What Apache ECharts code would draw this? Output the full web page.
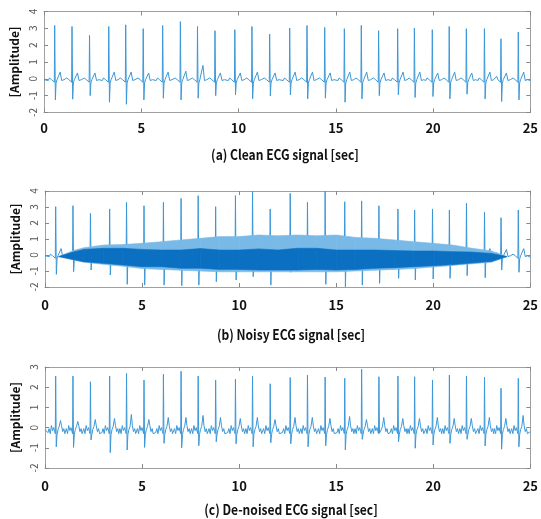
<!DOCTYPE html>
<html><head><meta charset="utf-8">
<script src="https://cdn.jsdelivr.net/npm/echarts@6/dist/echarts.min.js"></script>
<style>html,body{margin:0;padding:0;background:#fff}#c{width:541px;height:519px}</style>
</head><body><div id="c"></div>
<script>
// R-peak times (sec)
const beatTimes = [0.55,1.44,2.34,3.33,4.2,5.1,6.1,7.01,7.89,8.79,9.81,10.69,11.6,12.63,13.52,14.43,15.44,16.31,17.2,18.18,19.04,19.96,20.83,21.71,22.64,23.49,24.38];
// (a) clean
const cleanR = [3.17,3.11,2.58,3.11,3.21,2.98,3.17,3.4,3.11,2.86,2.92,3.11,2.65,3.02,3.17,3.05,2.98,3.17,2.86,2.98,3.02,2.92,3.11,2.98,2.98,2.38,2.78];
const cleanS = [-1.25,-1.21,-1.0,-1.39,-1.51,-1.25,-1.15,-1.25,-1.15,-1.0,-0.95,-1.19,-1.01,-0.95,-1.19,-1.15,-1.39,-1.19,-1.0,-0.95,-1.11,-1.05,-1.19,-0.91,-1.19,-1.35,-1.25];
const cleanT = [0.4,0.35,0.35,0.4,0.4,0.35,0.4,0.45,0.8,0.35,0.35,0.4,0.35,0.4,0.4,0.35,0.4,0.4,0.35,0.4,0.4,0.35,0.4,0.35,0.4,0.35,0.4];
// (b) noisy
const noisyR = [3.02,3.08,2.6,2.88,3.29,3.08,3.29,3.54,3.71,3.02,3.71,3.98,2.88,3.85,3.29,3.98,3.33,3.38,3.08,2.88,2.81,2.88,2.81,3.23,2.67,2.33,2.81];
const noisyS = [-1.21,-1.04,-0.94,-1.25,-1.83,-1.88,-1.88,-1.92,-1.88,-1.67,-1.56,-1.35,-1.88,-1.08,-0.94,-1.83,-1.98,-1.88,-1.77,-1.46,-1.56,-1.5,-1.46,-1.29,-1.42,-0.94,-1.08];
const noiseTimes = [0.7,1.5,2,3,4,5,6,7,8,9,10,11,12,13,14,15,16,17,18,19,20,21,22,23,23.8];
const lightTop    = [-0.1,0.3,0.45,0.62,0.65,0.73,0.83,0.94,1.04,1.15,1.15,1.25,1.2,1.25,1.2,1.25,1.1,1.04,0.94,0.83,0.73,0.62,0.42,0.25,-0.1];
const darkTop     = [-0.1,0.2,0.35,0.42,0.42,0.35,0.31,0.31,0.4,0.31,0.31,0.38,0.31,0.42,0.42,0.31,0.31,0.31,0.28,0.25,0.25,0.21,0.18,0.1,-0.1];
const darkBottom  = [-0.1,-0.3,-0.42,-0.52,-0.62,-0.73,-0.73,-0.83,-0.83,-0.9,-0.9,-0.94,-0.94,-0.94,-0.9,-0.94,-0.9,-0.83,-0.79,-0.73,-0.67,-0.6,-0.5,-0.4,-0.1];
const lightBottom = [-0.1,-0.32,-0.45,-0.58,-0.7,-0.85,-0.9,-0.95,-1.0,-1.05,-1.05,-1.05,-1.05,-1.05,-1.05,-1.05,-1.0,-0.95,-0.9,-0.85,-0.75,-0.65,-0.55,-0.45,-0.1];
// (c) de-noised
const denoR = [2.55,2.55,2.27,2.55,2.68,2.35,2.64,2.79,2.55,2.35,2.4,2.55,2.17,2.48,2.6,2.5,2.44,2.89,2.52,2.55,2.52,2.36,2.6,2.55,2.49,1.95,2.44];
const denoS = [-0.95,-0.98,-0.61,-1.24,-1.11,-0.98,-0.78,-1.0,-0.9,-0.7,-0.8,-0.95,-0.75,-0.8,-0.95,-0.9,-1.1,-0.58,-0.28,-0.7,-1.02,-0.86,-0.78,-0.58,-0.91,-1.07,-0.95];
const denoT = [0.35,0.3,0.4,0.45,0.65,0.4,0.5,0.5,0.6,0.5,0.45,0.5,0.4,0.5,0.5,0.45,0.55,0.4,0.5,0.45,0.45,0.5,0.45,0.45,0.5,0.45,0.6];
// single-beat shapes (offset from R in sec, level)
const cleanShapeDt = [-0.33,-0.27,-0.22,-0.16,-0.06,-0.02,0,0.035,0.07,0.12,0.2,0.28,0.36,0.42,0.48];
const cleanShapeV  = [-0.1,0.05,0.15,-0.05,-0.1,-0.2,'R','S',-0.25,-0.05,0.05,'T',-0.1,-0.2,-0.05];
const denoShapeDt = [-0.4,-0.34,-0.28,-0.22,-0.16,-0.1,-0.05,-0.02,0,0.03,0.07,0.12,0.18,0.25,0.3,0.36,0.42,0.47];
const denoShapeV  = [-0.25,-0.05,-0.3,0.1,-0.15,0.0,-0.2,-0.3,'R','S',-0.35,-0.1,0.05,'T',0.1,-0.2,-0.05,-0.3];

function build(times, R, S, T, dt, shape, startV, endV) {
  const pts = [[0, startV]];
  times.forEach((t, i) => {
    dt.forEach((d, k) => {
      const s = shape[k];
      const v = s === 'R' ? R[i] : s === 'S' ? S[i] : s === 'T' ? T[i] : s;
      const x = t + d;
      if (x > 0 && x < 25) pts.push([x, v]);
    });
  });
  pts.push([25, endV]);
  return pts;
}
// band segments: [t0, t1, top0, top1, bot0, bot1]
const bandSegs = (top, bot) => noiseTimes.slice(0, -1).map((t, i) =>
  [t, noiseTimes[i + 1], top[i], top[i + 1], bot[i], bot[i + 1]]);

function bandSeries(top, bot, color, z) {
  return {
    type: 'custom', xAxisIndex: 2, yAxisIndex: 2, z: z, silent: true,
    encode: {x: [0, 1], y: [2, 3, 4, 5]},
    data: bandSegs(top, bot),
    renderItem: function (params, api) {
      const a = api.coord([api.value(0), api.value(2)]);
      const b = api.coord([api.value(1), api.value(3)]);
      const c = api.coord([api.value(1), api.value(5)]);
      const d = api.coord([api.value(0), api.value(4)]);
      return {type: 'polygon', shape: {points: [a, b, c, d]},
        style: {fill: color, stroke: color, lineWidth: 0.6}};
    }
  };
}

const frame = '#a0a0a0';
const font = '"Noto Sans CJK KR", "Noto Sans", sans-serif';
const grids = [
  {left: 44, top: 11.5, width: 491, height: 101},
  {left: 45, top: 191, width: 491, height: 96},
  {left: 45, top: 367, width: 493, height: 101}
];
const yMax = [4, 4, 3];
const xMargin = [9, 12, 12];
const xAxes = [], yAxes = [];
grids.forEach((g, i) => {
  const base = {type: 'value', gridIndex: i, min: 0, max: 25, interval: 5, splitLine: {show: false},
    axisLine: {show: true, onZero: false, lineStyle: {color: frame, width: 1}},
    axisTick: {show: true, inside: true, length: 4, lineStyle: {color: '#888'}}};
  xAxes.push(Object.assign({}, base, {position: 'bottom',
    axisLabel: {margin: xMargin[i], fontSize: 13, fontWeight: 'bold', color: '#111', fontFamily: font}}));
  xAxes.push(Object.assign({}, base, {position: 'top', axisLabel: {show: false}}));
  const ybase = {type: 'value', gridIndex: i, min: -2, max: yMax[i], interval: 1, splitLine: {show: false},
    axisLine: {show: true, onZero: false, lineStyle: {color: frame, width: 1}},
    axisTick: {show: true, inside: true, length: 4, lineStyle: {color: '#888'}}};
  yAxes.push(Object.assign({}, ybase, {position: 'left', name: '[Amplitude]', nameLocation: 'middle', nameRotate: 90, nameGap: 24,
    nameTextStyle: {fontSize: 12, fontWeight: 'bold', color: '#111', fontFamily: font},
    axisLabel: {rotate: 90, margin: 6, fontSize: 10, color: '#555', fontFamily: font}}));
  yAxes.push(Object.assign({}, ybase, {position: 'right', name: '', axisLabel: {show: false}}));
});

const lineCol = '#3b97d6';
const series = [
  {type: 'line', xAxisIndex: 0, yAxisIndex: 0, showSymbol: false, z: 3,
   lineStyle: {color: lineCol, width: 1},
   data: build(beatTimes, cleanR, cleanS, cleanT, cleanShapeDt, cleanShapeV, -0.05, -0.1)},
  {type: 'line', xAxisIndex: 2, yAxisIndex: 2, showSymbol: false, z: 2,
   lineStyle: {color: lineCol, width: 1},
   data: build(beatTimes, noisyR, noisyS, cleanT, cleanShapeDt, cleanShapeV, -0.05, -0.15)},
  bandSeries(lightTop, lightBottom, '#78b9e7', 3),
  bandSeries(darkTop, darkBottom, '#0b70c2', 4),
  {type: 'line', xAxisIndex: 4, yAxisIndex: 4, showSymbol: false, z: 3,
   lineStyle: {color: lineCol, width: 1},
   data: build(beatTimes, denoR, denoS, denoT, denoShapeDt, denoShapeV, -0.1, -0.2)}
];

const titles = [
  {text: '(a) Clean ECG signal [sec]', x: 285, y: 155},
  {text: '(b) Noisy ECG signal [sec]', x: 291, y: 335},
  {text: '(c) De-noised ECG signal [sec]', x: 291, y: 510}
];
const chart = echarts.init(document.getElementById('c'), null, {renderer: 'canvas'});
chart.setOption({
  animation: false,
  grid: grids,
  xAxis: xAxes,
  yAxis: yAxes,
  series: series,
  graphic: titles.map(t => ({type: 'text', x: t.x, y: t.y, scaleX: 0.86,
    style: {text: t.text, align: 'center', verticalAlign: 'middle', fill: '#111',
      font: 'bold 14px "Noto Sans CJK KR", "Noto Sans", sans-serif'}}))
});
</script></body></html>
